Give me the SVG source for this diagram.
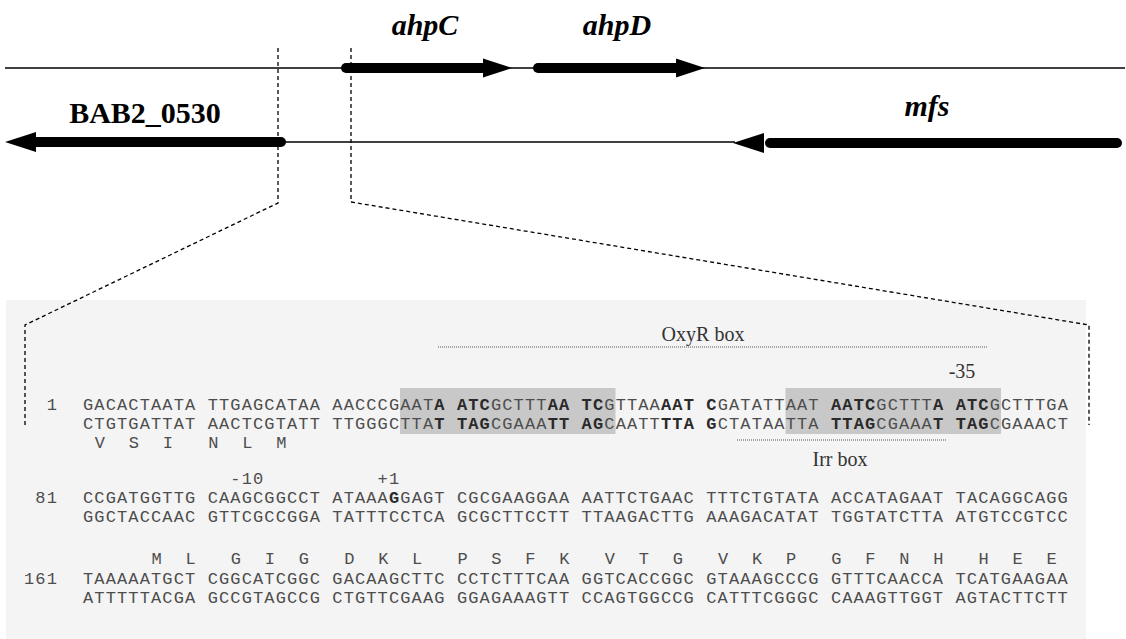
<svg xmlns="http://www.w3.org/2000/svg" width="1126" height="639" viewBox="0 0 1126 639">
<style>
.thin{stroke:#000;stroke-width:1.3;fill:none}
.gene{stroke:#000;stroke-width:10;stroke-linecap:round;fill:none}
.head{fill:#000}
.dash{stroke:#000;stroke-width:1.3;fill:none;stroke-dasharray:4 3}
.dot{stroke:#555;stroke-width:1.2;fill:none;stroke-dasharray:1 1}
.glab{font-family:"Liberation Serif",serif;font-size:30px;font-weight:bold;fill:#000}
.it{font-style:italic}
.ser{font-family:"Liberation Serif",serif;font-size:20px;fill:#333}
.seq{font-family:"Liberation Mono",monospace;font-size:17px;letter-spacing:1.13px;fill:#4d4d4d}
.b{font-weight:bold;fill:#2a2a2a}
.box{fill:#c8c8c8}
</style>
<rect x="6" y="300" width="1080" height="339" fill="#f4f4f4"/>
<g id="connectors">
<line class="thin" x1="5" y1="68" x2="1125" y2="68"/>
<line class="thin" x1="283" y1="142" x2="735" y2="142"/>
<path class="dash" d="M278,48 V203 L25,325 V425"/>
<path class="dash" d="M351,48 V202 L1089,325 V425"/>
</g>
<g id="ahpC">
<line class="gene" x1="346" y1="68" x2="490" y2="68"/>
<polygon class="head" points="483,58.5 512,68 483,77.5"/>
<text class="glab it" x="425" y="35" text-anchor="middle">ahpC</text>
</g>
<g id="ahpD">
<line class="gene" x1="538" y1="68" x2="682" y2="68"/>
<polygon class="head" points="676,58.5 705,68 676,77.5"/>
<text class="glab it" x="617" y="35" text-anchor="middle">ahpD</text>
</g>
<g id="BAB2_0530">
<line class="gene" x1="281" y1="142" x2="30" y2="142"/>
<polygon class="head" points="36,132 5,142 36,152"/>
<text class="glab" x="145" y="123" text-anchor="middle">BAB2_0530</text>
</g>
<g id="mfs">
<line class="gene" x1="1117" y1="143" x2="770" y2="143"/>
<polygon class="head" points="764,133 733,143 764,153"/>
<text class="glab it" x="927" y="116" text-anchor="middle">mfs</text>
</g>
<g id="sequence">
<rect class="box" x="400" y="388" width="215.5" height="46"/>
<rect class="box" x="785.5" y="388" width="215.5" height="46"/>
<text class="ser" x="703" y="341" text-anchor="middle">OxyR box</text>
<line class="dot" x1="438" y1="347" x2="988" y2="347"/>
<text class="ser" x="962" y="378" text-anchor="middle">-35</text>
<line class="dot" x1="737" y1="440" x2="947" y2="440"/>
<text class="ser" x="840" y="466" text-anchor="middle">Irr box</text>

<text class="seq" x="58" y="410" text-anchor="end">1</text>
<text class="seq" x="83" y="410" xml:space="preserve">GACACTAATA TTGAGCATAA AACCCGAAT<tspan class="b">A ATC</tspan>GCTTT<tspan class="b">AA TC</tspan>GTTAA<tspan class="b">AAT C</tspan>GATATTAAT <tspan class="b">AATC</tspan>GCTTT<tspan class="b">A ATC</tspan>GCTTTGA</text>
<text class="seq" x="83" y="429" xml:space="preserve">CTGTGATTAT AACTCGTATT TTGGGCTTA<tspan class="b">T TAG</tspan>CGAAA<tspan class="b">TT AG</tspan>CAATT<tspan class="b">TTA G</tspan>CTATAATTA <tspan class="b">TTAG</tspan>CGAAA<tspan class="b">T TAG</tspan>CGAAACT</text>
<text class="seq" x="100.5 134.5 168.5 213.8 247.8 281.8" y="448" text-anchor="middle">VSINLM</text>

<text class="seq" x="230.3" y="484">-10</text>
<text class="seq" x="377.6" y="484">+1</text>
<text class="seq" x="58" y="503" text-anchor="end">81</text>
<text class="seq" x="83" y="503" xml:space="preserve">CCGATGGTTG CAAGCGGCCT ATAAA<tspan class="b">G</tspan>GAGT CGCGAAGGAA AATTCTGAAC TTTCTGTATA ACCATAGAAT TACAGGCAGG</text>
<text class="seq" x="83" y="522" xml:space="preserve">GGCTACCAAC GTTCGCCGGA TATTTCCTCA GCGCTTCCTT TTAAGACTTG AAAGACATAT TGGTATCTTA ATGTCCGTCC</text>

<text class="seq" x="157.1 191.1 236.5 270.4 304.4 349.8 383.8 417.7 463.1 497 531 565 610.4 644.3 678.3 723.7 757.6 791.6 837 870.9 904.9 938.9 984.2 1018.2 1052.2" y="564" text-anchor="middle">MLGIGDKLPSFKVTGVKPGFNHHEE</text>
<text class="seq" x="58" y="584" text-anchor="end">161</text>
<text class="seq" x="83" y="584" xml:space="preserve">TAAAAATGCT CGGCATCGGC GACAAGCTTC CCTCTTTCAA GGTCACCGGC GTAAAGCCCG GTTTCAACCA TCATGAAGAA</text>
<text class="seq" x="83" y="603" xml:space="preserve">ATTTTTACGA GCCGTAGCCG CTGTTCGAAG GGAGAAAGTT CCAGTGGCCG CATTTCGGGC CAAAGTTGGT AGTACTTCTT</text>
</g>
</svg>
